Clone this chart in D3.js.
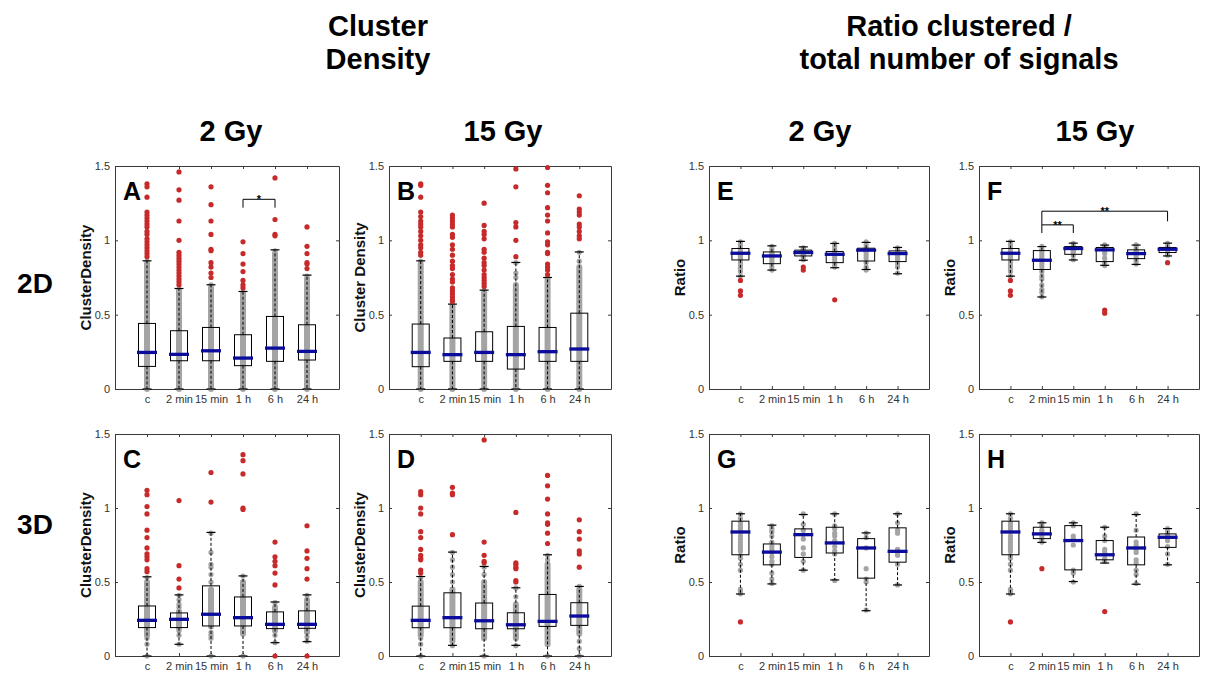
<!DOCTYPE html>
<html>
<head>
<meta charset="utf-8">
<script src="https://cdn.jsdelivr.net/npm/d3@7"></script>
<style>
  body { margin: 0; background: #fff; }
  text { font-family: "Liberation Sans", Arial, Helvetica, sans-serif; }
</style>
</head>
<body>
<svg id="chart" width="1205" height="677"></svg>
<script>
// ---- Data -------------------------------------------------------------
const categories = ["c", "2 min", "15 min", "1 h", "6 h", "24 h"];
const yTicks = [0, 0.5, 1, 1.5];
const yTickLabels = ["0", "0.5", "1", "1.5"];

// Box statistics per time point: [lower whisker, Q1, median, Q3, upper whisker]
const statsA = [[0, 0.152, 0.246, 0.441, 0.862], [0, 0.190, 0.233, 0.392, 0.676], [0, 0.190, 0.257, 0.414, 0.701],
                [0, 0.157, 0.208, 0.365, 0.656], [0, 0.186, 0.275, 0.488, 0.936], [0, 0.195, 0.253, 0.432, 0.766]];
const statsB = [[0, 0.150, 0.246, 0.437, 0.862], [0, 0.186, 0.231, 0.343, 0.571], [0, 0.186, 0.246, 0.385, 0.665],
                [0, 0.134, 0.231, 0.421, 0.851], [0, 0.186, 0.251, 0.414, 0.750], [0, 0.186, 0.269, 0.510, 0.922]];
const statsC = [[0, 0.192, 0.241, 0.338, 0.535], [0.079, 0.192, 0.248, 0.291, 0.413], [0, 0.203, 0.282, 0.474, 0.835],
                [0, 0.203, 0.259, 0.399, 0.541], [0.090, 0.185, 0.214, 0.298, 0.365], [0.097, 0.187, 0.214, 0.305, 0.413]];
const statsD = [[0, 0.191, 0.241, 0.337, 0.537], [0.072, 0.191, 0.259, 0.427, 0.702], [0, 0.184, 0.238, 0.358, 0.605],
                [0.072, 0.184, 0.211, 0.292, 0.461], [0, 0.200, 0.234, 0.416, 0.684], [0, 0.207, 0.270, 0.360, 0.470]];
const statsE = [[0.759, 0.868, 0.913, 0.945, 0.993], [0.800, 0.843, 0.895, 0.922, 0.963], [0.866, 0.895, 0.918, 0.934, 0.956],
                [0.816, 0.850, 0.906, 0.925, 0.979], [0.804, 0.861, 0.934, 0.947, 0.986], [0.775, 0.857, 0.911, 0.929, 0.952]];
const statsF = [[0.759, 0.868, 0.913, 0.945, 0.993], [0.619, 0.804, 0.866, 0.931, 0.958], [0.868, 0.906, 0.945, 0.958, 0.981],
                [0.832, 0.857, 0.936, 0.952, 0.968], [0.838, 0.877, 0.911, 0.936, 0.968], [0.895, 0.918, 0.940, 0.952, 0.981]];
const statsG = [[0.419, 0.684, 0.838, 0.911, 0.961], [0.487, 0.616, 0.702, 0.757, 0.884], [0.580, 0.666, 0.820, 0.859, 0.956],
                [0.514, 0.696, 0.764, 0.870, 0.961], [0.306, 0.526, 0.730, 0.793, 0.832], [0.480, 0.634, 0.707, 0.866, 0.961]];
const statsH = [[0.419, 0.684, 0.838, 0.911, 0.961], [0.768, 0.793, 0.825, 0.870, 0.900], [0.503, 0.582, 0.780, 0.881, 0.900],
                [0.628, 0.650, 0.684, 0.780, 0.870], [0.485, 0.616, 0.730, 0.804, 0.956], [0.616, 0.734, 0.802, 0.825, 0.861]];

// Outliers per time point
const outliersA = [
  [1.38, 1.36, 1.29, 1.19, 1.17, 1.15, 1.13, 1.11, 1.09, 1.06, 1.04, 1.01, 0.99, 0.97, 0.95, 0.93, 0.91, 0.89],
  [1.46, 1.34, 1.27, 1.13, 1.00, 0.92, 0.90, 0.88, 0.86, 0.84, 0.82, 0.80, 0.78, 0.76, 0.74, 0.72, 0.70],
  [1.36, 1.24, 1.13, 1.04, 0.94, 0.93, 0.85, 0.82, 0.78, 0.75],
  [0.99, 0.91, 0.84, 0.79, 0.73, 0.70, 0.68],
  [1.42, 1.14, 1.04, 1.03],
  [1.09, 0.96, 0.91, 0.85, 0.84, 0.81]];
const outliersB = [
  [1.38, 1.37, 1.29, 1.19, 1.16, 1.13, 1.11, 1.09, 1.06, 1.03, 1.00, 0.97, 0.95, 0.92, 0.90],
  [1.17, 1.15, 1.13, 1.11, 1.09, 1.04, 1.02, 0.97, 0.94, 0.90, 0.86, 0.83, 0.81, 0.77, 0.74, 0.72, 0.68, 0.66, 0.64, 0.62, 0.60, 0.59],
  [1.25, 1.10, 1.06, 1.04, 1.01, 0.94, 0.92, 0.88, 0.85, 0.83, 0.80, 0.77, 0.75, 0.73, 0.71, 0.69],
  [1.48, 1.36, 1.12, 1.09, 1.00, 0.89],
  [1.49, 1.37, 1.32, 1.22, 1.17, 1.13, 1.05, 0.99, 0.97, 0.92, 0.91, 0.84, 0.82, 0.80, 0.77],
  [1.30, 1.21, 1.19, 1.17, 1.11, 1.09, 1.06, 1.03, 1.01]];
const outliersC = [
  [1.12, 1.09, 1.01, 0.96, 0.85, 0.80, 0.73, 0.69, 0.67, 0.65, 0.59, 0.57],
  [1.05, 0.61, 0.52, 0.46],
  [1.24, 1.04],
  [1.36, 1.32, 1.23, 1.00, 0.99],
  [0.77, 0.67, 0.64, 0.61, 0.56, 0.48, 0],
  [0.88, 0.71, 0.66, 0.59, 0.52, 0]];
const outliersD = [
  [1.11, 1.09, 1.00, 0.96, 0.84, 0.80, 0.72, 0.68, 0.66, 0.65, 0.58, 0.56],
  [1.14, 1.10, 1.09, 0.82],
  [1.46, 0.77, 0.68, 0.64, 0.63],
  [0.97, 0.63, 0.62, 0.60, 0.59, 0.51, 0.50],
  [1.22, 1.15, 1.06, 0.96, 0.90, 0.89, 0.83, 0.76],
  [0.92, 0.84, 0.79, 0.71, 0.69, 0.60]];
const outliersE = [[0.73, 0.66, 0.63], [], [0.82, 0.80], [0.60], [], []];
const outliersF = [[0.73, 0.66, 0.63], [], [], [0.53, 0.51], [], [0.85]];
const outliersG = [[0.23], [], [], [], [], []];
const outliersH = [[0.23], [0.59], [], [0.30], [], []];

// Densely packed observations, given as [from, to] value ranges
const stripsA = [[0, 0.84], [0, 0.66], [0, 0.68], [0, 0.64], [0, 0.91], [0, 0.74]];
const stripsB = [[0, 0.84], [0, 0.56], [0, 0.65], [0, 0.70], [0, 0.74], [0, 0.82]];
const stripsC = [[0.14, 0.50], [0.19, 0.30], [0.20, 0.45], [0.15, 0.50], [0.17, 0.33], [0.16, 0.38]];
const stripsD = [[0.14, 0.50], [0.10, 0.45], [0.12, 0.50], [0.12, 0.35], [0.08, 0.62], [0.15, 0.45]];

// Individually visible observations
const pointsA = [[0.86], [0.67], [0.70], [0.65], [0.93], [0.76]];
const pointsB = [[0.86], [0.57], [0.66], [0.75, 0.78, 0.85], [0.75], [0.86, 0.92]];
const pointsC = [
  [0, 0.08, 0.12, 0.53],
  [0.08, 0.14, 0.17, 0.33, 0.35, 0.38, 0.41],
  [0, 0.12, 0.14, 0.16, 0.50, 0.55, 0.60, 0.62, 0.70, 0.83],
  [0, 0.54],
  [0.09, 0.14, 0.36],
  [0.10, 0.13, 0.41]];
const pointsD = [
  [0, 0.08, 0.12, 0.53],
  [0.07, 0.50, 0.55, 0.60, 0.65, 0.70],
  [0, 0.55, 0.60],
  [0.07, 0.40, 0.46],
  [0, 0.65, 0.68],
  [0, 0.05, 0.10, 0.47]];
const pointsE = [
  [0.99, 0.97, 0.95, 0.93, 0.92, 0.91, 0.90, 0.89, 0.88, 0.87, 0.85, 0.83, 0.81, 0.79, 0.76],
  [0.96, 0.94, 0.92, 0.91, 0.90, 0.89, 0.88, 0.86, 0.84, 0.82, 0.80],
  [0.95, 0.94, 0.93, 0.92, 0.91, 0.90, 0.89, 0.87],
  [0.98, 0.96, 0.94, 0.93, 0.91, 0.89, 0.87, 0.85, 0.83, 0.82],
  [0.99, 0.97, 0.95, 0.94, 0.93, 0.92, 0.90, 0.88, 0.85, 0.82, 0.80],
  [0.95, 0.94, 0.92, 0.91, 0.90, 0.88, 0.86, 0.84, 0.82, 0.78]];
const pointsF = [
  [0.99, 0.97, 0.95, 0.93, 0.92, 0.91, 0.90, 0.89, 0.88, 0.87, 0.85, 0.83, 0.81, 0.79, 0.76],
  [0.96, 0.94, 0.92, 0.90, 0.88, 0.86, 0.84, 0.82, 0.79, 0.76, 0.74, 0.70, 0.67, 0.65, 0.62],
  [0.98, 0.96, 0.95, 0.94, 0.93, 0.92, 0.90, 0.87],
  [0.97, 0.96, 0.95, 0.94, 0.93, 0.91, 0.88, 0.85, 0.83],
  [0.97, 0.95, 0.93, 0.92, 0.91, 0.90, 0.88, 0.86, 0.84],
  [0.98, 0.96, 0.95, 0.94, 0.93, 0.92, 0.90]];
const pointsG = [
  [0.96, 0.93, 0.90, 0.88, 0.86, 0.84, 0.81, 0.79, 0.77, 0.75, 0.73, 0.71, 0.68, 0.66, 0.62, 0.58, 0.45, 0.44, 0.42],
  [0.88, 0.86, 0.84, 0.81, 0.77, 0.74, 0.72, 0.70, 0.67, 0.64, 0.62, 0.56, 0.52, 0.49],
  [0.96, 0.89, 0.85, 0.82, 0.79, 0.73, 0.69, 0.64, 0.58],
  [0.96, 0.88, 0.86, 0.83, 0.81, 0.78, 0.74, 0.71, 0.69, 0.51],
  [0.83, 0.80, 0.73, 0.59, 0.52, 0.50, 0.31],
  [0.96, 0.90, 0.85, 0.83, 0.72, 0.70, 0.68, 0.62, 0.48]];
const pointsH = [
  [0.96, 0.93, 0.90, 0.88, 0.86, 0.84, 0.81, 0.79, 0.77, 0.75, 0.73, 0.71, 0.68, 0.66, 0.62, 0.58, 0.45, 0.44, 0.42],
  [0.90, 0.88, 0.85, 0.83, 0.81, 0.79, 0.77],
  [0.90, 0.88, 0.81, 0.79, 0.75, 0.58, 0.56, 0.50],
  [0.87, 0.81, 0.78, 0.72, 0.70, 0.66, 0.64],
  [0.96, 0.85, 0.77, 0.75, 0.72, 0.70, 0.65, 0.63, 0.58, 0.55, 0.49],
  [0.86, 0.84, 0.82, 0.78, 0.74, 0.69, 0.62]];

// Significance brackets: bar height, leg ends, label
const bracketsA = [{ from: "1 h", to: "6 h", y: 1.276, leftEnd: 1.22, rightEnd: 1.22, label: "*" }];
const bracketsF = [
  { from: "2 min", to: "15 min", y: 1.104, leftEnd: 1.049, rightEnd: 1.049, label: "**" },
  { from: "2 min", to: "24 h", y: 1.196, leftEnd: 1.104, rightEnd: 1.128, label: "**" }];

// ---- Layout ------------------------------------------------------------
const rowTop = { top: 166, bottom: 434 };
const rowBottom = { top: 389, bottom: 656 };
const colX = [[115, 339], [389, 611], [709, 929], [979, 1199]];

const panels = [
  { letter: "A", col: 0, row: "top", ylabel: "ClusterDensity", stats: statsA, out: outliersA, strips: stripsA, pts: pointsA, brackets: bracketsA },
  { letter: "B", col: 1, row: "top", ylabel: "Cluster Density", stats: statsB, out: outliersB, strips: stripsB, pts: pointsB, brackets: [] },
  { letter: "E", col: 2, row: "top", ylabel: "Ratio", stats: statsE, out: outliersE, strips: null, pts: pointsE, brackets: [] },
  { letter: "F", col: 3, row: "top", ylabel: "Ratio", stats: statsF, out: outliersF, strips: null, pts: pointsF, brackets: bracketsF },
  { letter: "C", col: 0, row: "bottom", ylabel: "ClusterDensity", stats: statsC, out: outliersC, strips: stripsC, pts: pointsC, brackets: [] },
  { letter: "D", col: 1, row: "bottom", ylabel: "ClusterDensity", stats: statsD, out: outliersD, strips: stripsD, pts: pointsD, brackets: [] },
  { letter: "G", col: 2, row: "bottom", ylabel: "Ratio", stats: statsG, out: outliersG, strips: null, pts: pointsG, brackets: [] },
  { letter: "H", col: 3, row: "bottom", ylabel: "Ratio", stats: statsH, out: outliersH, strips: null, pts: pointsH, brackets: [] }
];

const COL_BLUE = "#0b0b9c";
const COL_RED = "#c62a2a";
const COL_GRAY = "#a4a4a4";
const COL_AXIS = "#3a3a3a";

const svg = d3.select("#chart");

// ---- Headings ------------------------------------------------------------
const headings = [
  { text: "Cluster", x: 378, y: 36, size: 29 },
  { text: "Density", x: 378, y: 69, size: 29 },
  { text: "Ratio clustered /", x: 959, y: 36, size: 29 },
  { text: "total number of signals", x: 959, y: 69, size: 29 },
  { text: "2 Gy", x: 231, y: 141, size: 29 },
  { text: "15 Gy", x: 503, y: 141, size: 29 },
  { text: "2 Gy", x: 820, y: 141, size: 29 },
  { text: "15 Gy", x: 1095, y: 141, size: 29 },
  { text: "2D", x: 35, y: 293, size: 28 },
  { text: "3D", x: 35, y: 534, size: 28 }
];
svg.selectAll("text.heading").data(headings).join("text")
  .attr("class", "heading")
  .attr("x", d => d.x).attr("y", d => d.y)
  .attr("text-anchor", "middle")
  .attr("font-size", d => d.size).attr("font-weight", "bold")
  .attr("fill", "#000")
  .text(d => d.text);

// ---- Panels --------------------------------------------------------------
panels.forEach(p => {
  const [x0, x1] = colX[p.col];
  const yTop = p.row === "top" ? rowTop.top : rowTop.bottom;
  const yBot = p.row === "top" ? rowBottom.top : rowBottom.bottom;

  const x = d3.scalePoint().domain(categories).range([x0, x1]).padding(1);
  const y = d3.scaleLinear().domain([0, 1.5]).range([yBot, yTop]);
  const g = svg.append("g");

  // axes (MATLAB style box with inward ticks)
  const styleAxis = sel => {
    sel.selectAll("path.domain").attr("stroke", COL_AXIS).attr("stroke-width", 1);
    sel.selectAll(".tick line").attr("stroke", COL_AXIS);
    sel.selectAll(".tick text").attr("fill", "#333").attr("font-size", 11)
      .attr("font-family", '"Liberation Sans", Arial, Helvetica, sans-serif');
  };
  g.append("g").attr("transform", `translate(${x0},0)`)
    .call(d3.axisLeft(y).tickValues(yTicks).tickFormat((d, i) => yTickLabels[i]).tickSizeInner(-3).tickSizeOuter(0).tickPadding(5))
    .call(styleAxis);
  g.append("g").attr("transform", `translate(${x1},0)`)
    .call(d3.axisRight(y).tickValues(yTicks).tickFormat("").tickSizeInner(-3).tickSizeOuter(0))
    .call(styleAxis);
  g.append("g").attr("transform", `translate(0,${yBot})`)
    .call(d3.axisBottom(x).tickSizeInner(-3).tickSizeOuter(0).tickPadding(6))
    .call(styleAxis);
  g.append("g").attr("transform", `translate(0,${yTop})`)
    .call(d3.axisTop(x).tickFormat("").tickSizeInner(-3).tickSizeOuter(0))
    .call(styleAxis);

  // y label
  g.append("text")
    .attr("transform", `translate(${x0 - 24},${(yTop + yBot) / 2}) rotate(-90)`)
    .attr("text-anchor", "middle")
    .attr("font-size", 15).attr("font-weight", "bold").attr("fill", "#111")
    .text(p.ylabel);

  // panel letter
  g.append("text")
    .attr("x", x0 + 8).attr("y", yTop + 34)
    .attr("font-size", 25).attr("font-weight", "bold").attr("fill", "#000")
    .text(p.letter);

  const data = categories.map((c, i) => ({
    cat: c, s: p.stats[i], out: p.out[i],
    strip: p.strips ? p.strips[i] : null, pts: p.pts[i]
  }));
  const groups = g.selectAll("g.box").data(data).join("g").attr("class", "box");

  // dense observations
  groups.filter(d => d.strip).append("rect")
    .attr("x", d => x(d.cat) - 3)
    .attr("y", d => y(d.strip[1]) - 3)
    .attr("width", 6)
    .attr("height", d => y(d.strip[0]) - y(d.strip[1]) + 6)
    .attr("rx", 3)
    .attr("fill", COL_GRAY);

  // individual observations
  groups.each(function (d) {
    d3.select(this).selectAll("circle.obs").data(d.pts).join("circle")
      .attr("class", "obs")
      .attr("cx", x(d.cat)).attr("cy", v => y(v)).attr("r", 2.6)
      .attr("fill", COL_GRAY);
  });

  // whiskers
  groups.append("line")
    .attr("x1", d => x(d.cat)).attr("x2", d => x(d.cat))
    .attr("y1", d => y(d.s[3])).attr("y2", d => y(d.s[4]))
    .attr("stroke", "#000").attr("stroke-width", 1).attr("stroke-dasharray", "3,2");
  groups.append("line")
    .attr("x1", d => x(d.cat)).attr("x2", d => x(d.cat))
    .attr("y1", d => y(d.s[1])).attr("y2", d => y(d.s[0]))
    .attr("stroke", "#000").attr("stroke-width", 1).attr("stroke-dasharray", "3,2");
  [0, 4].forEach(k => {
    groups.append("line")
      .attr("x1", d => x(d.cat) - 4.5).attr("x2", d => x(d.cat) + 4.5)
      .attr("y1", d => y(d.s[k])).attr("y2", d => y(d.s[k]))
      .attr("stroke", "#000").attr("stroke-width", 1.2);
  });

  // box
  groups.append("rect")
    .attr("x", d => x(d.cat) - 8.5)
    .attr("y", d => y(d.s[3]))
    .attr("width", 17)
    .attr("height", d => y(d.s[1]) - y(d.s[3]))
    .attr("fill", "none").attr("stroke", "#000").attr("stroke-width", 1);

  // outliers
  groups.each(function (d) {
    d3.select(this).selectAll("circle.out").data(d.out).join("circle")
      .attr("class", "out")
      .attr("cx", x(d.cat)).attr("cy", v => y(v)).attr("r", 2.6)
      .attr("fill", COL_RED);
  });

  // median
  groups.append("line")
    .attr("x1", d => x(d.cat) - 10).attr("x2", d => x(d.cat) + 10)
    .attr("y1", d => y(d.s[2])).attr("y2", d => y(d.s[2]))
    .attr("stroke", COL_BLUE).attr("stroke-width", 3.3);

  // significance brackets
  p.brackets.forEach(b => {
    const xa = x(b.from), xb = x(b.to);
    g.append("path")
      .attr("d", d3.line()([[xa, y(b.leftEnd)], [xa, y(b.y)], [xb, y(b.y)], [xb, y(b.rightEnd)]]))
      .attr("fill", "none").attr("stroke", "#000").attr("stroke-width", 1);
    g.append("text")
      .attr("x", (xa + xb) / 2).attr("y", y(b.y) + 4)
      .attr("text-anchor", "middle").attr("font-size", 11).attr("font-weight", "bold")
      .text(b.label);
  });
});
</script>
</body>
</html>
